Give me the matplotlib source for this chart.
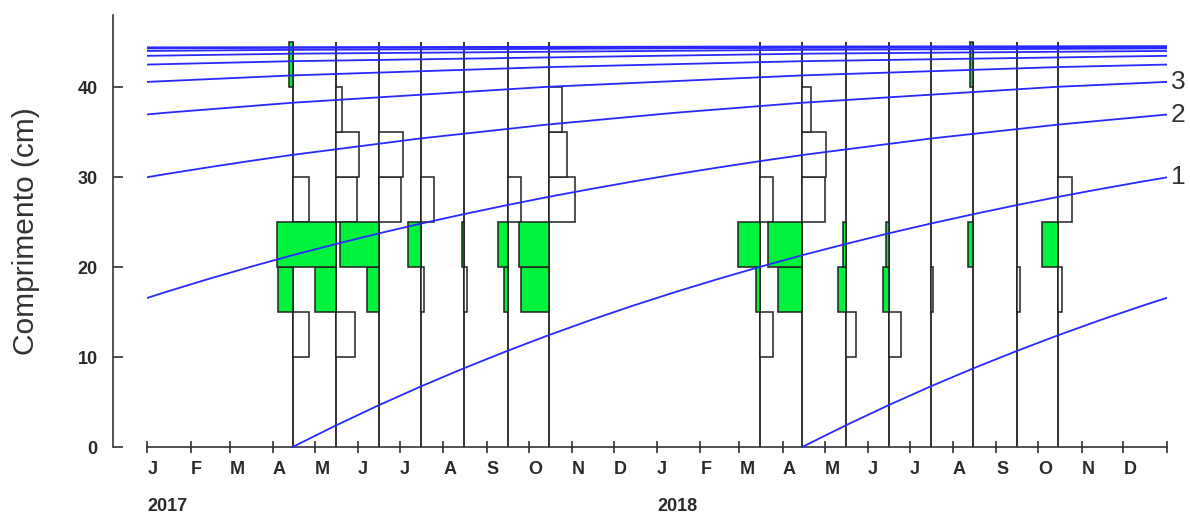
import numpy as np
import pandas as pd
import matplotlib
matplotlib.use('Agg')
import matplotlib.pyplot as plt
import matplotlib.dates as mdates
from matplotlib.patches import Rectangle

plt.rcParams['font.family'] = ['Liberation Sans', 'DejaVu Sans']

# sampling dates (one vertical line each)
sample_dates = ['2017-04-15', '2017-05-16', '2017-06-16', '2017-07-16', '2017-08-16',
                '2017-09-16', '2017-10-16',
                '2018-03-16', '2018-04-15', '2018-05-16', '2018-06-16', '2018-07-16',
                '2018-08-15', '2018-09-16', '2018-10-15']
bin_lower = [10, 15, 20, 25, 30, 35, 40]
bin_width = 5
# restructured scores as bar length in days: + green to the left, - white to the right
scores = [
    [-12.0, 10.7, 0.0, -12.0, 0.0, 0.0, 2.9],
    [-13.6, 15.0, 42.2, -15.0, -16.5, -4.3, 0.0],
    [0.0, 8.6, 27.9, -15.8, -17.2, 0.0, 0.0],
    [0.0, -1.9, 9.6, -9.0, 0.0, 0.0, 0.0],
    [0.0, -1.7, 1.7, 0.0, 0.0, 0.0, 0.0],
    [0.0, 2.9, 7.2, -9.3, 0.0, 0.0, 0.0],
    [0.0, 20.3, 21.8, -18.0, -12.2, -8.6, 0.0],
    [-8.8, 3.0, 15.8, -8.8, 0.0, 0.0, 0.0],
    [0.0, 17.2, 24.3, -16.3, -17.0, -6.0, 0.0],
    [-7.4, 5.7, 1.7, 0.0, 0.0, 0.0, 0.0],
    [-8.4, 4.0, 1.9, 0.0, 0.0, 0.0, 0.0],
    [0.0, -1.9, 0.0, 0.0, 0.0, 0.0, 0.0],
    [0.0, 0.0, 3.6, 0.0, 0.0, 0.0, 1.5],
    [0.0, -1.9, 0.0, 0.0, 0.0, 0.0, 0.0],
    [0.0, -3.2, 11.2, -10.0, 0.0, 0.0, 0.0],
]

# growth curves: one per cohort, length at age
cohort_births = ['2008-04-15', '2009-04-15', '2010-04-15', '2011-04-15', '2012-04-15',
                 '2013-04-15', '2014-04-15', '2015-04-15', '2016-04-15', '2017-04-15',
                 '2018-04-15']
cohort_labels = {'2015-04-15': '3', '2016-04-15': '2', '2017-04-15': '1'}
age_months = [0, 1, 2, 3, 4, 5, 6, 7, 8, 9, 10, 11, 12,
              13, 14, 15, 16, 17, 18, 19, 20, 21, 22, 23, 24,
              27, 30, 33, 36, 42, 48, 54, 60, 72, 84, 96, 120, 144]
length_cm = [0.0, 2.35, 4.58, 6.69, 8.69, 10.58, 12.38, 14.08, 15.69, 17.21, 18.65, 20.02, 21.32,
             22.54, 23.71, 24.81, 25.85, 26.84, 27.78, 28.66, 29.5, 30.3, 31.05, 31.77, 32.45,
             34.27, 35.82, 37.13, 38.25, 40.02, 41.29, 42.21, 42.87, 43.7, 44.13, 44.35, 44.5, 44.6]

month_letters = ['J', 'F', 'M', 'A', 'M', 'J', 'J', 'A', 'S', 'O', 'N', 'D'] * 2
years = ['2017', '2018']

edge = '#222222'
green = '#00f23c'
blue = '#2828ff'

t0 = mdates.date2num(pd.Timestamp('2017-01-01'))
t1 = mdates.date2num(pd.Timestamp('2019-01-01'))

fig = plt.figure(figsize=(11.9, 5.14), dpi=100)
ax = fig.add_axes([113 / 1190, 67 / 514, 1077 / 1190, 432 / 514])
ax.set_xlim(t0 - 24.6, t0 + 746.7)
ax.set_ylim(0, 48)

sx = mdates.date2num(pd.to_datetime(sample_dates))
ax.vlines(sx, 0, 45, color=edge, lw=1.3, zorder=2)

sc = np.array(scores)
for i, x in enumerate(sx):
    for j, lo in enumerate(bin_lower):
        v = sc[i, j]
        if v > 0:
            ax.barh(lo, v, left=x - v, height=bin_width, align='edge', color=green,
                    edgecolor=edge, lw=1.1, zorder=3)
        elif v < 0:
            ax.barh(lo, -v, left=x, height=bin_width, align='edge', color='white',
                    edgecolor=edge, lw=1.1, zorder=3)

clip = Rectangle((t0, -1), t1 - t0, 60, transform=ax.transData)
ages_days = np.array(age_months) * 365.25 / 12
for b in cohort_births:
    bx = mdates.date2num(pd.Timestamp(b))
    line, = ax.plot(bx + ages_days, length_cm, color=blue, lw=1.3, zorder=4)
    line.set_clip_path(clip)
    if b in cohort_labels:
        yend = np.interp(t1, bx + ages_days, length_cm)
        ax.text(t1 + 3, yend, cohort_labels[b], fontsize=19, va='center', ha='left',
                color='#333333')

# axes styling
for s in ['top', 'right']:
    ax.spines[s].set_visible(False)
ax.spines['bottom'].set_bounds(t0, t1)
for s in ['left', 'bottom']:
    ax.spines[s].set_linewidth(1.2)
    ax.spines[s].set_color('#333333')

month_starts = pd.date_range('2017-01-01', '2019-01-01', freq='MS')
ax.set_xticks(mdates.date2num(month_starts))
ax.set_xticklabels(month_letters + [''], ha='left', fontweight='bold')
ax.tick_params(axis='x', direction='inout', length=8, width=1.2, color='#333333',
               labelsize=13, labelcolor='#2a2a2a', pad=6)
ax.set_yticks([0, 10, 20, 30, 40])
ax.set_yticklabels(['0', '10', '20', '30', '40'], fontweight='bold')
ax.tick_params(axis='y', direction='in', length=7.2, width=1.2, color='#333333',
               labelsize=13, labelcolor='#2a2a2a', pad=11)

for y in years:
    ax.annotate(y, xy=(mdates.date2num(pd.Timestamp(y + '-01-01')), 0),
                xycoords='data', xytext=(0, -43), textcoords='offset points',
                ha='left', va='center', fontsize=13, fontweight='bold', color='#2a2a2a',
                annotation_clip=False)

ax.set_ylabel('Comprimento (cm)', fontsize=21.5, color='#333333')
ax.yaxis.set_label_coords(-0.0678, 0.5)

fig.savefig('out.png', dpi=100)
